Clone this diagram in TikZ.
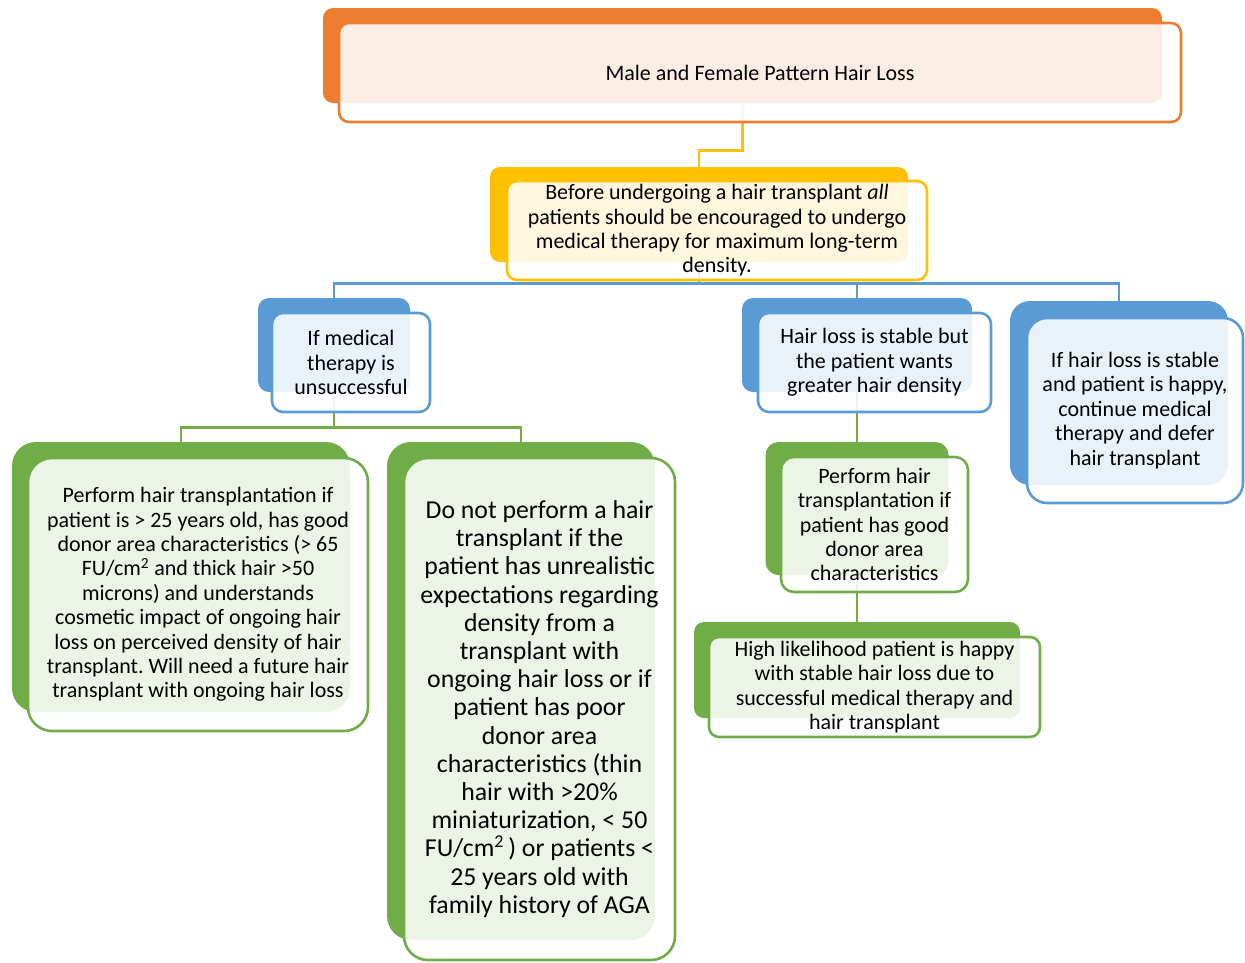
\documentclass[tikz,border=0pt]{standalone}
\usepackage{fontspec}
\setmainfont{Carlito}
\frenchspacing
\definecolor{orng}{HTML}{ED7D31}
\definecolor{ylw}{HTML}{FFC000}
\definecolor{blu}{HTML}{5B9BD5}
\definecolor{grn}{HTML}{70AD47}
\begin{document}
\begin{tikzpicture}[x=1pt,y=-1pt,
  backbox/.style={rectangle,fill=#1,inner sep=0pt},
  frontbox/.style={rectangle,draw=#1,line width=2.6pt,fill=white,fill opacity=0.87,text opacity=1,align=center,inner sep=0pt,font=\fontsize{22}{24.4}\selectfont},
  link/.style={draw=#1,line width=2.8pt}]
\useasboundingbox (0,0) rectangle (1245,962);
% back plates
\node (t-b) [backbox=orng,minimum width=839pt,minimum height=95pt,rounded corners=10pt] at (742.5,55.5) {};
\node (y-b) [backbox=ylw,minimum width=418pt,minimum height=95pt,rounded corners=10pt] at (699,214.5) {};
\node (b1-b) [backbox=blu,minimum width=152pt,minimum height=94pt,rounded corners=11pt] at (334,345) {};
\node (b2-b) [backbox=blu,minimum width=230pt,minimum height=94pt,rounded corners=11pt] at (857,345) {};
\node (b3-b) [backbox=blu,minimum width=218pt,minimum height=184pt,rounded corners=20pt] at (1119,393) {};
\node (g1-b) [backbox=grn,minimum width=338pt,minimum height=270pt,rounded corners=24pt] at (181,577) {};
\node (g2-b) [backbox=grn,minimum width=268pt,minimum height=498pt,rounded corners=24pt] at (521,691) {};
\node (g3-b) [backbox=grn,minimum width=183pt,minimum height=133pt,rounded corners=13pt] at (857,508.5) {};
\node (g4-b) [backbox=grn,minimum width=326pt,minimum height=96pt,rounded corners=10pt] at (857,670) {};
% connectors
\draw [link=ylw] (t-b.south) -- ++(0,47) -| (y-b.north);
\draw [link=blu] (y-b.south) -- ++(0,21) -| (b1-b.north);
\draw [link=blu] (y-b.south) -- ++(0,21) -| (b2-b.north);
\draw [link=blu] (y-b.south) -- ++(0,21) -| (b3-b.north);
\draw [link=grn] (b1-b.south) -- ++(0,35) -| (g1-b.north);
\draw [link=grn] (b1-b.south) -- ++(0,35) -| (g2-b.north);
\draw [link=grn] (b2-b.south) -- (g3-b.north);
\draw [link=grn] (g3-b.south) -- (g4-b.north);
% front boxes
\node (t) [frontbox=orng,minimum width=842pt,minimum height=99pt,rounded corners=10pt] at (760,72.5) {Male and Female Pattern Hair Loss};
\node (y) [frontbox=ylw,minimum width=420pt,minimum height=99pt,rounded corners=10pt] at (717,230.5)
  {Before undergoing a hair transplant \textit{all}\\ patients should be encouraged to undergo\\ medical therapy for maximum long-term\\ density.};
\node (b1) [frontbox=blu,minimum width=158pt,minimum height=99pt,rounded corners=11pt] at (351,362.5)
  {If medical\\ therapy is\\ unsuccessful};
\node (b2) [frontbox=blu,minimum width=233pt,minimum height=99pt,rounded corners=11pt] at (874.5,362.5)
  {Hair loss is stable but\\ the patient wants\\ greater hair density};
\node (b3) [frontbox=blu,minimum width=216pt,minimum height=185pt,rounded corners=20pt] at (1135,410.5)
  {If hair loss is stable\\ and patient is happy,\\ continue medical\\ therapy and defer\\ hair transplant};
\node (g1) [frontbox=grn,minimum width=340pt,minimum height=273pt,rounded corners=24pt] at (198,594.5)
  {Perform hair transplantation if\\ patient is > 25 years old, has good\\ donor area characteristics (> 65\\ FU/cm\textsuperscript{2} and thick hair >50\\ microns) and understands\\ cosmetic impact of ongoing hair\\ loss on perceived density of hair\\ transplant. Will need a future hair\\ transplant with ongoing hair loss};
\node (g2) [frontbox=grn,minimum width=271pt,minimum height=502pt,rounded corners=24pt,font=\fontsize{25.8}{28.2}\selectfont] at (539.5,709)
  {Do not perform a hair\\ transplant if the\\ patient has unrealistic\\ expectations regarding\\ density from a\\ transplant with\\ ongoing hair loss or if\\ patient has poor\\ donor area\\ characteristics (thin\\ hair with >20\%\\ miniaturization, < 50\\ FU/cm\textsuperscript{2}\,) or patients <\\ 25 years old with\\ family history of AGA};
\node (g3) [frontbox=grn,minimum width=187pt,minimum height=135pt,rounded corners=13pt] at (874.5,524.5)
  {Perform hair\\ transplantation if\\ patient has good\\ donor area\\ characteristics};
\node (g4) [frontbox=grn,minimum width=331pt,minimum height=100pt,rounded corners=10pt] at (874.5,687)
  {High likelihood patient is happy\\ with stable hair loss due to\\ successful medical therapy and\\ hair transplant};
\end{tikzpicture}
\end{document}
